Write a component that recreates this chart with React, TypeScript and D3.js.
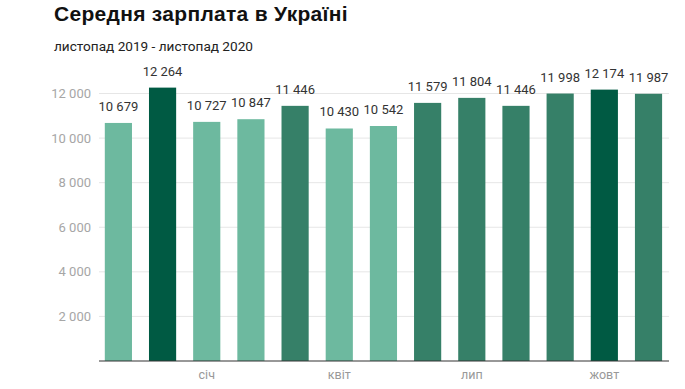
import React from "react";
import * as d3 from "d3";

const months = ["лис 2019", "гру", "січ", "лют", "бер", "квіт", "трав", "черв", "лип", "серп", "вер", "жовт", "лис 2020"];
const values = [10679, 12264, 10727, 10847, 11446, 10430, 10542, 11579, 11804, 11446, 11998, 12174, 11987];
const shades = ["light", "dark", "light", "light", "mid", "light", "light", "mid", "mid", "mid", "mid", "dark", "mid"];
const xTickLabels = [
  { index: 2, label: "січ" },
  { index: 5, label: "квіт" },
  { index: 8, label: "лип" },
  { index: 11, label: "жовт" },
];
const yTicks = [2000, 4000, 6000, 8000, 10000, 12000];
const title = "Середня зарплата в Україні";
const subtitle = "листопад 2019 - листопад 2020";

const palette: Record<string, string> = {
  light: "#6db99f",
  mid: "#368068",
  dark: "#005a43",
};

const W = 685;
const H = 389;
const font = "Roboto, 'Noto Sans', sans-serif";
const fmt = (v: number) => d3.format(",")(v).replace(/,/g, " ");

export default function App() {
  const x = d3.scaleBand<string>().domain(months).range([96.3, 670.6]).paddingInner(0.385).paddingOuter(0.1925);
  const y = d3.scaleLinear().domain([0, 12000]).range([361, 93.5]);
  const left = 99;
  const right = 669;

  return (
    <svg width={W} height={H} style={{ position: "absolute", left: 0, top: 0, fontFamily: font }}>
      <rect width={W} height={H} fill="#fff" />
      <text x={54} y={21} fontSize={21} letterSpacing={0.3} fontWeight="bold" fill="#111" fontFamily="'Liberation Sans', Arial, sans-serif">{title}</text>
      <text x={54} y={51} fontSize={13.6} fill="#222">{subtitle}</text>
      {yTicks.map((t) => (
        <g key={t}>
          <line x1={left} x2={right} y1={y(t)} y2={y(t)} stroke="#e6e6e6" strokeWidth={1} />
          <text x={91} y={y(t)} dy="0.35em" textAnchor="end" fontSize={13} fill="#a6a6a6">{fmt(t)}</text>
        </g>
      ))}
      {months.map((m, i) => (
        <g key={m}>
          <rect x={x(m)} y={y(values[i])} width={x.bandwidth()} height={y(0) - y(values[i])} fill={palette[shades[i]]} />
          <text x={(x(m) as number) + x.bandwidth() / 2} y={y(values[i]) - 12} textAnchor="middle" fontSize={13} fill="#333">{fmt(values[i])}</text>
        </g>
      ))}
      <line x1={left} x2={right} y1={y(0)} y2={y(0)} stroke="#333" strokeWidth={1.2} />
      {xTickLabels.map((t) => (
        <text key={t.label} x={(x(months[t.index]) as number) + x.bandwidth() / 2} y={379} textAnchor="middle" fontSize={12.5} fill="#999">{t.label}</text>
      ))}
    </svg>
  );
}
